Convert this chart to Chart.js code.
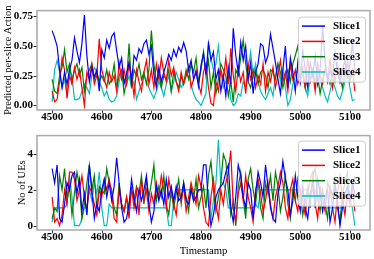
<!DOCTYPE html>
<html><head><meta charset="utf-8">
<script src="https://cdn.jsdelivr.net/npm/chart.js@4.4.0/dist/chart.umd.min.js"></script>
<style>
html,body{margin:0;padding:0;background:#fff;}
body{width:374px;height:259px;position:relative;overflow:hidden;}
canvas{position:absolute;left:0;}
#c1{top:0;} #c2{top:125px;}
</style></head><body>
<canvas id="c1" width="374" height="125"></canvas>
<canvas id="c2" width="374" height="134"></canvas>
<script>
const timestamps = [4500,4505,4510,4515,4520,4525,4530,4535,4540,4545,4550,4555,4560,4565,4570,4575,4580,4585,4590,4595,
4600,4605,4610,4615,4620,4625,4630,4635,4640,4645,4650,4655,4660,4665,4670,4675,4680,4685,4690,4695,
4700,4705,4710,4715,4720,4725,4730,4735,4740,4745,4750,4755,4760,4765,4770,4775,4780,4785,4790,4795,
4800,4805,4810,4815,4820,4825,4830,4835,4840,4845,4850,4855,4860,4865,4870,4875,4880,4885,4890,4895,
4900,4905,4910,4915,4920,4925,4930,4935,4940,4945,4950,4955,4960,4965,4970,4975,4980,4985,4990,4995,
5000,5005,5010,5015,5020,5025,5030,5035,5040,5045,5050,5055,5060,5065,5070,5075,5080,5085,5090,5095,
5100,5105,5110];
const sliceNames = ['Slice1','Slice2','Slice3','Slice4'];
const xTickValues = [4500,4600,4700,4800,4900,5000,5100];
const actionTickValues = [0,0.25,0.5,0.75];
const ueTickValues = [0,2,4];

// Predicted per-slice action
const actionSlice1 = [0.63,0.57,0.50,0.30,0.15,0.28,0.18,0.30,0.38,0.57,
0.46,0.36,0.52,0.76,0.42,0.20,0.32,0.24,0.30,0.12,
0.47,0.40,0.55,0.48,0.58,0.61,0.46,0.32,0.40,0.18,
0.27,0.36,0.20,0.42,0.38,0.48,0.44,0.52,0.55,0.43,
0.50,0.26,0.15,0.32,0.20,0.28,0.35,0.43,0.38,0.47,
0.41,0.49,0.45,0.53,0.46,0.30,0.38,0.22,0.28,0.16,
0.34,0.44,0.26,0.52,0.38,0.45,0.22,0.30,0.12,0.25,
0.08,0.32,0.18,0.65,0.42,0.28,0.53,0.38,0.50,0.22,
0.36,0.10,0.28,0.35,0.52,0.50,0.36,0.42,0.60,0.48,
0.36,0.22,0.10,0.30,0.50,0.15,0.40,0.28,0.12,0.36,
0.20,0.46,0.30,0.15,0.36,0.25,0.42,0.18,0.30,0.66,
0.38,0.20,0.30,0.25,0.45,0.28,0.20,0.30,0.38,0.24,
0.35,0.52,0.30];
const actionSlice2 = [0.12,0.03,0.05,0.20,0.40,0.30,0.06,0.25,0.18,0.32,
0.22,0.30,0.15,0.00,0.28,0.22,0.35,0.18,0.25,0.56,
0.30,0.22,0.15,0.28,0.20,0.25,0.12,0.36,0.22,0.30,
0.18,0.35,0.25,0.08,0.30,0.20,0.12,0.28,0.38,0.18,
0.30,0.15,0.35,0.22,0.40,0.28,0.20,0.38,0.25,0.32,
0.20,0.12,0.28,0.18,0.25,0.33,0.15,0.22,0.30,0.18,
0.10,0.28,0.35,0.15,0.02,0.00,0.20,0.12,0.30,0.22,
0.40,0.18,0.48,0.25,0.12,0.32,0.20,0.28,0.10,0.35,
0.22,0.30,0.15,0.25,0.18,0.35,0.12,0.28,0.20,0.32,
0.15,0.25,0.38,0.20,0.28,0.12,0.35,0.22,0.30,0.18,
0.25,0.32,0.15,0.40,0.20,0.28,0.12,0.35,0.25,0.18,
0.30,0.22,0.40,0.15,0.28,0.35,0.20,0.30,0.25,0.38,
0.22,0.30,0.12];
const actionSlice3 = [0.22,0.12,0.10,0.25,0.32,0.47,0.28,0.35,0.20,0.30,
0.35,0.25,0.32,0.12,0.25,0.30,0.35,0.22,0.28,0.20,
0.25,0.20,0.30,0.18,0.22,0.35,0.15,0.25,0.30,0.10,
0.20,0.52,0.15,0.30,0.25,0.35,0.22,0.28,0.18,0.30,
0.63,0.35,0.20,0.28,0.15,0.25,0.22,0.30,0.12,0.28,
0.20,0.15,0.25,0.18,0.30,0.22,0.35,0.28,0.40,0.20,
0.30,0.45,0.25,0.38,0.15,0.28,0.10,0.22,0.35,0.30,
0.25,0.08,0.20,0.03,0.30,0.25,0.40,0.55,0.35,0.20,
0.15,0.25,0.30,0.18,0.28,0.30,0.25,0.15,0.30,0.28,
0.22,0.35,0.28,0.15,0.25,0.30,0.20,0.35,0.42,0.50,
0.30,0.25,0.15,0.28,0.20,0.30,0.18,0.25,0.10,0.22,
0.30,0.25,0.18,0.28,0.20,0.32,0.25,0.15,0.28,0.35,
0.20,0.28,0.25];
const actionSlice4 = [0.03,0.30,0.38,0.28,0.15,0.22,0.10,0.30,0.25,0.05,
0.05,0.06,0.12,0.18,0.15,0.10,0.25,0.32,0.28,0.20,
0.15,0.08,0.12,0.05,0.03,0.04,0.08,0.20,0.28,0.22,
0.18,0.25,0.15,0.20,0.05,0.12,0.18,0.25,0.20,0.15,
0.10,0.06,0.12,0.20,0.15,0.08,0.18,0.25,0.12,0.20,
0.28,0.22,0.15,0.20,0.25,0.30,0.18,0.10,0.05,0.03,
0.00,0.05,0.10,0.54,0.40,0.30,0.35,0.50,0.28,0.15,
0.20,0.25,0.05,0.00,0.02,0.10,0.08,0.20,0.15,0.30,
0.45,0.25,0.35,0.20,0.12,0.08,0.05,0.10,0.15,0.08,
0.25,0.35,0.20,0.30,0.15,0.00,0.05,0.18,0.25,0.30,
0.20,0.28,0.15,0.08,0.25,0.30,0.20,0.35,0.22,0.15,
0.08,0.03,0.12,0.20,0.15,0.08,0.05,0.12,0.20,0.28,
0.15,0.04,0.05];

// Number of UEs
const ueSlice1 = [3.2,2.4,3.4,0.4,0.2,1.2,2.4,2.0,2.8,3.0,
1.8,2.6,0.8,1.8,0.6,3.4,2.0,0.4,1.2,0.8,
2.0,2.6,1.6,2.4,1.4,2.2,3.8,2.4,1.0,0.2,
0.4,1.2,2.6,1.6,0.8,2.0,1.4,2.0,2.8,1.2,
0.2,0.8,2.2,1.4,2.0,1.2,2.6,1.6,2.2,1.4,
2.2,1.4,1.6,2.4,1.4,1.2,2.0,1.4,1.6,2.0,
2.0,3.4,3.4,1.2,0.0,0.6,1.6,2.0,2.2,2.4,
3.0,3.4,1.0,0.2,1.6,3.4,2.8,1.6,1.0,2.4,
2.0,0.4,1.8,3.0,2.4,1.6,3.4,2.2,1.0,0.4,
0.2,1.8,2.4,3.6,2.6,2.0,0.6,1.4,2.8,1.6,
0.8,2.2,1.0,0.4,1.8,2.4,1.0,2.6,1.8,0.8,
1.6,2.0,0.2,1.0,2.2,1.4,0.0,1.0,1.8,2.2,
1.4,2.4,1.8];
const ueSlice2 = [1.6,0.2,0.4,0.0,0.6,2.0,1.2,3.0,3.0,2.6,
1.4,2.0,2.8,1.6,0.8,2.2,1.8,1.2,0.6,2.0,
1.6,2.6,2.0,2.6,1.8,0.4,0.2,2.0,1.2,0.8,
1.6,0.4,2.2,1.0,2.0,0.6,2.6,1.4,2.0,0.8,
1.8,1.2,2.4,1.6,2.8,2.0,1.0,2.6,1.8,1.2,
0.6,2.0,1.4,2.2,0.8,1.6,2.4,1.8,1.2,2.8,
2.2,1.0,0.2,0.0,1.6,2.6,1.2,0.4,2.0,1.2,
2.4,3.0,4.2,1.0,0.2,1.8,2.4,1.4,2.8,1.6,
1.0,0.2,2.0,2.6,1.8,0.8,1.4,2.4,1.2,0.4,
1.6,2.2,3.0,2.4,1.0,0.4,2.0,2.6,1.4,0.8,
2.0,1.4,0.6,1.8,2.6,3.0,1.2,0.4,2.2,1.6,
0.8,2.4,2.0,1.0,0.2,1.8,2.8,1.4,0.6,2.0,
1.2,2.2,0.8];
const ueSlice3 = [0.4,1.0,0.8,2.8,2.0,3.2,1.4,2.2,0.6,1.8,
3.0,2.2,0.4,1.2,2.4,3.4,2.0,2.8,1.0,2.2,
2.0,1.8,3.2,2.4,2.0,1.0,0.6,2.4,1.2,0.8,
1.6,1.0,2.0,1.4,2.2,1.8,2.8,1.2,2.6,1.6,
2.4,3.4,1.4,2.2,1.6,2.8,1.2,0.6,2.0,1.0,
1.8,2.6,1.2,2.4,1.6,0.8,2.2,1.4,2.6,1.0,
1.6,2.2,1.0,2.8,3.6,2.0,0.8,1.6,2.4,4.0,
3.6,2.0,0.6,1.4,0.0,2.2,3.0,1.6,0.4,2.6,
3.2,2.0,1.2,2.6,1.0,0.4,2.4,1.8,2.8,1.4,
3.0,2.2,0.8,1.6,2.8,1.2,0.4,2.0,1.4,2.6,
1.8,0.6,1.4,2.2,1.0,2.8,3.2,1.6,0.8,2.0,
1.2,0.4,2.2,1.6,2.6,1.0,0.2,1.8,2.4,3.0,
1.4,2.0,2.8];
const ueSlice4 = [0.2,1.0,1.0,1.0,1.0,1.0,1.2,2.8,1.6,0.0,
0.0,0.0,0.4,1.0,1.0,2.0,1.4,2.4,1.8,3.0,
1.0,0.0,0.0,1.2,1.0,1.0,1.0,1.0,1.0,1.0,
1.0,1.0,1.0,1.0,1.0,1.0,1.0,1.0,1.0,1.0,
1.0,1.0,1.0,1.0,1.0,1.0,1.0,0.0,0.0,1.4,
2.0,2.0,2.0,2.0,2.0,2.0,2.0,2.0,2.0,2.0,
2.0,2.0,2.0,2.0,0.4,1.4,2.4,4.8,2.4,2.4,
2.0,1.0,1.0,1.0,1.0,1.0,1.0,1.0,1.0,1.0,
1.0,1.0,1.2,1.0,2.0,2.0,2.0,2.0,2.0,2.0,
2.0,2.0,2.0,2.0,2.0,2.0,2.0,2.0,2.0,2.0,
2.0,2.0,2.0,2.0,1.6,2.0,2.0,1.4,2.0,1.2,
1.0,1.0,1.0,1.0,1.0,1.0,1.0,1.0,1.0,1.4,
1.6,1.0,0.0];

const colors = ['#0000ff','#ff0000','#008000','#00bfbf'];
const SERIF = "'Liberation Serif','Times New Roman',serif";
Chart.defaults.font.family = SERIF;
Chart.defaults.color = '#000';

const decor = {
  id: 'decor',
  afterDatasetsDraw(chart, args, opts) {
    const {ctx, chartArea: a, scales} = chart;
    ctx.save();
    ctx.strokeStyle = '#333'; ctx.lineWidth = 1;
    scales.x.ticks.forEach(t => {
      const px = Math.round(scales.x.getPixelForValue(t.value)) + 0.5;
      ctx.beginPath(); ctx.moveTo(px, a.bottom); ctx.lineTo(px, a.bottom + 3.5); ctx.stroke();
    });
    scales.y.ticks.forEach(t => {
      const py = Math.round(scales.y.getPixelForValue(t.value)) + 0.5;
      ctx.beginPath(); ctx.moveTo(a.left, py); ctx.lineTo(a.left - 3.5, py); ctx.stroke();
    });
    ctx.strokeStyle = '#a8a8a8'; ctx.lineWidth = 1.5;
    ctx.strokeRect(a.left, a.top, a.right - a.left, a.bottom - a.top);
    // legend
    const bw = 67, bh = 65;
    const bx = a.right - 5 - bw, by = a.top + opts.legendTop;
    ctx.beginPath();
    ctx.roundRect(bx + 0.5, by + 0.5, bw, bh, 3);
    ctx.fillStyle = 'rgba(255,255,255,0.8)'; ctx.fill();
    ctx.strokeStyle = '#cccccc'; ctx.lineWidth = 1; ctx.stroke();
    ctx.font = 'bold 11px ' + SERIF;
    ctx.textBaseline = 'middle'; ctx.textAlign = 'left';
    chart.data.datasets.forEach((ds, i) => {
      const yy = by + 9.5 + i * 15.3;
      ctx.strokeStyle = ds.borderColor; ctx.lineWidth = 1.5;
      ctx.beginPath(); ctx.moveTo(bx + 4, yy); ctx.lineTo(bx + 27, yy); ctx.stroke();
      ctx.fillStyle = '#000';
      ctx.fillText(ds.label, bx + 35, yy);
    });
    ctx.restore();
  }
};

function makeChart(id, series, o) {
  const datasets = series.map((vals, i) => ({
    label: sliceNames[i],
    data: vals.map((v, k) => ({x: timestamps[k], y: v})),
    borderColor: colors[i], backgroundColor: colors[i],
    borderWidth: 1.2, pointRadius: 0, tension: 0, fill: false
  }));
  return new Chart(document.getElementById(id), {
    type: 'line',
    data: {datasets},
    options: {
      responsive: false, animation: false, devicePixelRatio: 1,
      layout: {padding: {top: o.padTop, right: 4, left: 0, bottom: 0}},
      plugins: {legend: {display: false}, tooltip: {enabled: false}, decor: {legendTop: o.legendTop}},
      scales: {
        x: {
          type: 'linear', min: 4469.5, max: 5140.5,
          afterBuildTicks: s => { s.ticks = xTickValues.map(v => ({value: v})); },
          afterFit: s => { s.height = o.xHeight; },
          ticks: {font: {size: 11, weight: 'bold'}, padding: 1, maxRotation: 0, autoSkip: false, color: '#000', callback: v => String(v)},
          grid: {display: false, drawTicks: false}, border: {display: false},
          title: o.xTitle ? {display: true, text: o.xTitle, font: {size: 10.7}, color: '#000', padding: {top: 0, bottom: 1.6}} : {display: false}
        },
        y: {
          min: o.ymin, max: o.ymax,
          afterBuildTicks: s => { s.ticks = o.yTicks.map(v => ({value: v})); },
          afterFit: s => { s.width = 37; },
          ticks: {font: {size: 11, weight: 'bold'}, padding: 4, color: '#000', callback: o.fmt},
          grid: {display: false, drawTicks: false}, border: {display: false},
          title: {display: true, text: o.yTitle, font: {size: 10.5}, color: '#000', padding: {top: o.yTitlePad, bottom: 0}}
        }
      }
    },
    plugins: [decor]
  });
}

makeChart('c1', [actionSlice1, actionSlice2, actionSlice3, actionSlice4], {
  padTop: 9, xHeight: 15, legendTop: 6, ymin: -0.038, ymax: 0.798,
  yTicks: actionTickValues, fmt: v => Number(v).toFixed(2),
  yTitle: 'Predicted per-slice Action', yTitlePad: 1.7, xTitle: null
});
makeChart('c2', [ueSlice1, ueSlice2, ueSlice3, ueSlice4], {
  padTop: 5, xHeight: 29, legendTop: 5, ymin: -0.24, ymax: 5.04,
  yTicks: ueTickValues, fmt: v => String(v),
  yTitle: 'No of UEs', yTitlePad: 15.7, xTitle: 'Timestamp'
});
</script>
</body></html>
